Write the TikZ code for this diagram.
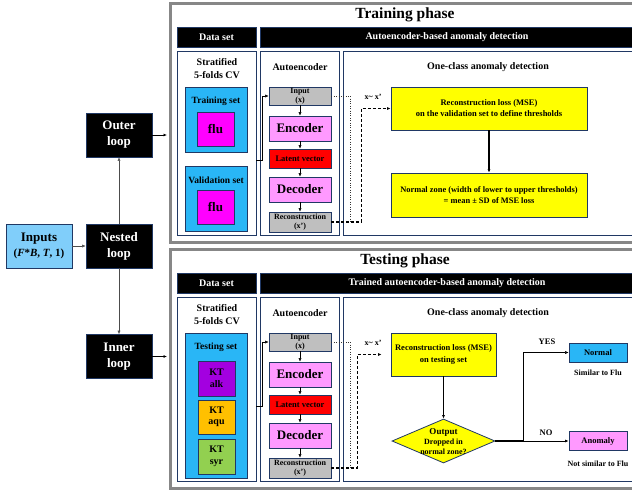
\documentclass[tikz,border=0pt]{standalone}
\usepackage{fontspec}
\setmainfont{Liberation Serif}
\usepackage{tikz}
\usetikzlibrary{shapes.geometric, arrows.meta}

\definecolor{bordbleu}{RGB}{32,56,100}
\definecolor{cadre}{RGB}{135,135,135}
\definecolor{cyanset}{RGB}{41,182,246}
\definecolor{bleuclair}{RGB}{128,206,250}
\definecolor{fluc}{RGB}{255,0,255}
\definecolor{rose}{RGB}{255,153,255}
\definecolor{grisae}{RGB}{191,191,191}
\definecolor{alkc}{RGB}{163,0,224}
\definecolor{aquc}{RGB}{255,192,0}
\definecolor{syrc}{RGB}{146,208,80}
\definecolor{jaune}{RGB}{255,255,0}

\newcommand{\taille}[2]{\fontsize{#1}{#2}\selectfont}

\tikzset{
  boite/.style={draw=bordbleu, line width=0.8pt, inner sep=0pt, align=center, font=\bfseries\taille{8}{9.5}},
  noir/.style={boite, fill=black, text=white, font=\bfseries\taille{10}{12}},
  boucle/.style={noir, minimum width=66pt, minimum height=44pt, font=\bfseries\taille{13}{16}},
  colonne/.style={draw=bordbleu, line width=0.8pt, fill=white, inner sep=0pt},
  ae/.style={boite, minimum width=62pt},
  texte/.style={inner sep=0pt, align=center, font=\bfseries\taille{8}{9.5}},
  tirets/.style={line width=1.4pt, dash pattern=on 3pt off 2pt},
}

\begin{document}
\begin{tikzpicture}[x=1pt, y=-1pt, >={Latex[length=3.5pt, width=3pt]}]
  \useasboundingbox (0,0) rectangle (632,491);

  % Entrees et boucles
  \node[boite, fill=bleuclair, minimum width=66pt, minimum height=44pt, font=\bfseries\taille{13}{15}] (inputs) at (39,246)
  {Inputs\\{\taille{11}{13}(\textit{F}*\textit{B}, \textit{T}, 1)}};
  \node[boucle] (nested) at (119,246) {Nested\\loop};
  \node[boucle] (outer) at (119,135) {Outer\\loop};
  \node[boucle] (inner) at (119,356.5) {Inner\\loop};

  \draw[->, black!70] (inputs) -- (nested);
  \draw[->, black!70] (nested) -- (outer);
  \draw[->, black!70] (nested) -- (inner);

  % Les deux phases
  \foreach \dy/\phase/\entete/\p in {0/Training phase/Autoencoder-based anomaly detection/tr,
                                    246/Testing phase/Trained autoencoder-based anomaly detection/te} {
    % Cadre gris
    \node[draw=cadre, line width=3pt, minimum width=470pt, minimum height=239pt, anchor=north west, inner sep=0pt] (cadre\p) at (168.5,1.5+\dy) {};
    \node[inner sep=0pt, font=\bfseries\taille{15.5}{17}] (titre\p) at (405,15+\dy) {\phase};

    % Entetes
    \node[noir, minimum width=79pt, minimum height=20pt] (datah\p) at (216.5,37+\dy) {Data set};
    \node[noir, minimum width=374pt, minimum height=20pt] (aeh\p) at (447,37+\dy) {\entete};

    % Colonnes
    \node[colonne, minimum width=79pt, minimum height=184pt] (datacol\p) at (216.5,143+\dy) {};
    \node[colonne, minimum width=79pt, minimum height=184pt] (aecol\p) at (299.5,143+\dy) {};
    \node[colonne, minimum width=291pt, minimum height=184pt] (occol\p) at (488.5,143+\dy) {};

    \node[texte, font=\bfseries\taille{10}{12.5}] (strat\p) at (217,68.5+\dy) {Stratified\\5-folds CV};
    \node[texte, font=\bfseries\taille{10}{12}] (aetitre\p) at (300,67+\dy) {Autoencoder};
    \node[texte, font=\bfseries\taille{10}{12}] (octitre\p) at (488,67+\dy) {One-class anomaly detection};

    % Autoencodeur
    \node[ae, fill=grisae, minimum height=18pt, font=\bfseries\taille{8}{8.5}] (input\p) at (300,96+\dy) {Input\\(x)};
    \node[ae, fill=rose, minimum height=25pt, font=\bfseries\taille{13}{15}] (enc\p) at (300,128.5+\dy) {Encoder};
    \node[ae, fill=red, minimum height=19pt, font=\bfseries\taille{8.5}{10}] (latent\p) at (300,158.5+\dy) {Latent vector};
    \node[ae, fill=rose, minimum height=25pt, font=\bfseries\taille{13}{15}] (dec\p) at (300,189.5+\dy) {Decoder};
    \node[ae, fill=grisae, minimum height=20pt, font=\bfseries\taille{8}{9}] (recon\p) at (300,222+\dy) {Reconstruction\\(x')};

    \draw[->] (input\p) -- (enc\p);
    \draw[->] (enc\p) -- (latent\p);
    \draw[->] (latent\p) -- (dec\p);
    \draw[->] (dec\p) -- (recon\p);

    % Liaisons
    \draw[->] (datacol\p.east) ++(0,17) -- ++(6,0) |- (input\p.west);
    \draw[dotted, black!80] (input\p.east) -| ([xshift=19pt]recon\p.east);
    \node[texte] (diff\p) at (373,97+\dy) {x\textasciitilde{} x'};
  }

  % Phase d'entrainement
  \node[boite, fill=cyanset, minimum width=62pt, minimum height=65pt] (trainset) at (216,119.5) {};
  \node[texte, font=\bfseries\taille{9.5}{11}] (trainlab) at (216,101) {Training set};
  \node[boite, fill=fluc, minimum width=37pt, minimum height=34pt, font=\bfseries\taille{13}{15}] (flutrain) at (215.5,129) {flu};
  \node[boite, fill=cyanset, minimum width=62pt, minimum height=65pt] (valset) at (216,198.5) {};
  \node[texte, font=\bfseries\taille{9.5}{11}] (vallab) at (216,180) {Validation set};
  \node[boite, fill=fluc, minimum width=37pt, minimum height=34pt, font=\bfseries\taille{13}{15}] (fluval) at (215.5,207) {flu};

  \node[boite, fill=jaune, minimum width=196pt, minimum height=43pt, font=\bfseries\taille{8.5}{11}] (losstr) at (489,108.5)
  {Reconstruction loss (MSE)\\on the validation set to define thresholds};
  \node[boite, fill=jaune, minimum width=196pt, minimum height=44pt, font=\bfseries\taille{8.4}{10.5}] (zone) at (489,195)
  {Normal zone (width of lower to upper thresholds)\\= mean ± SD of MSE loss};

  \draw[tirets, ->] (recontr.east) -- ++(30,0) |- (losstr.west);
  \draw[->, line width=1.5pt] (losstr) -- (zone);

  % Phase de test
  \node[boite, fill=cyanset, minimum width=62pt, minimum height=145pt] (testset) at (216,405.5) {};
  \node[texte, font=\bfseries\taille{9.5}{11}] (testlab) at (216,347) {Testing set};
  \node[boite, fill=alkc, minimum width=37pt, minimum height=35pt, font=\bfseries\taille{10}{11.5}] (alk) at (216.5,378.5) {KT\\alk};
  \node[boite, fill=aquc, minimum width=37pt, minimum height=34pt, font=\bfseries\taille{10}{11.5}] (aqu) at (216.5,417) {KT\\aqu};
  \node[boite, fill=syrc, minimum width=37pt, minimum height=35pt, font=\bfseries\taille{10}{11.5}] (syr) at (216.5,456.5) {KT\\syr};

  \node[boite, fill=jaune, minimum width=105pt, minimum height=43pt, font=\bfseries\taille{8.5}{12}] (losste) at (443.5,354.5)
  {Reconstruction loss (MSE)\\on testing set};
  \node[draw=bordbleu, line width=0.8pt, fill=jaune, diamond, minimum width=103pt, minimum height=44pt, inner sep=0pt] (decision) at (443.5,441) {};
  \node[texte, font=\bfseries\taille{8}{10}] (decilab) at (443.5,442) {{\taille{9}{10}Output}\\Dropped in\\normal zone?};
  \coordinate (split) at (523,441);

  \node[boite, fill=cyanset, minimum width=58pt, minimum height=19pt, font=\bfseries\taille{8.5}{10}] (normal) at (598,352.5) {Normal};
  \node[boite, fill=rose, minimum width=58pt, minimum height=19pt, font=\bfseries\taille{8.5}{10}] (anomaly) at (598,441) {Anomaly};
  \node[texte, font=\bfseries\taille{8.5}{10}] (yes) at (547,342) {YES};
  \node[texte, font=\bfseries\taille{8.5}{10}] (no) at (546,433) {NO};
  \node[texte] (simi) at (598,373) {Similar to Flu};
  \node[texte] (nonsimi) at (598,464) {Not similar to Flu};

  \draw[tirets, ->, shorten >=9pt] (reconte.east) -- ++(26,0) |- (losste.west);
  \draw[->, line width=1.5pt] (losste) -- (decision);
  \draw[line width=1.5pt] (decision.east) -- (split);
  \draw[->] (split) |- (normal.west);
  \draw[->, thick] (split) -- (anomaly.west);

  % Vers les phases
  \draw[->, thick, shorten >=1.5pt] (outer.east) -- (outer.east -| cadretr.west);
  \draw[->, thick, shorten >=1.5pt] (inner.east) -- (inner.east -| cadrete.west);
\end{tikzpicture}
\end{document}
